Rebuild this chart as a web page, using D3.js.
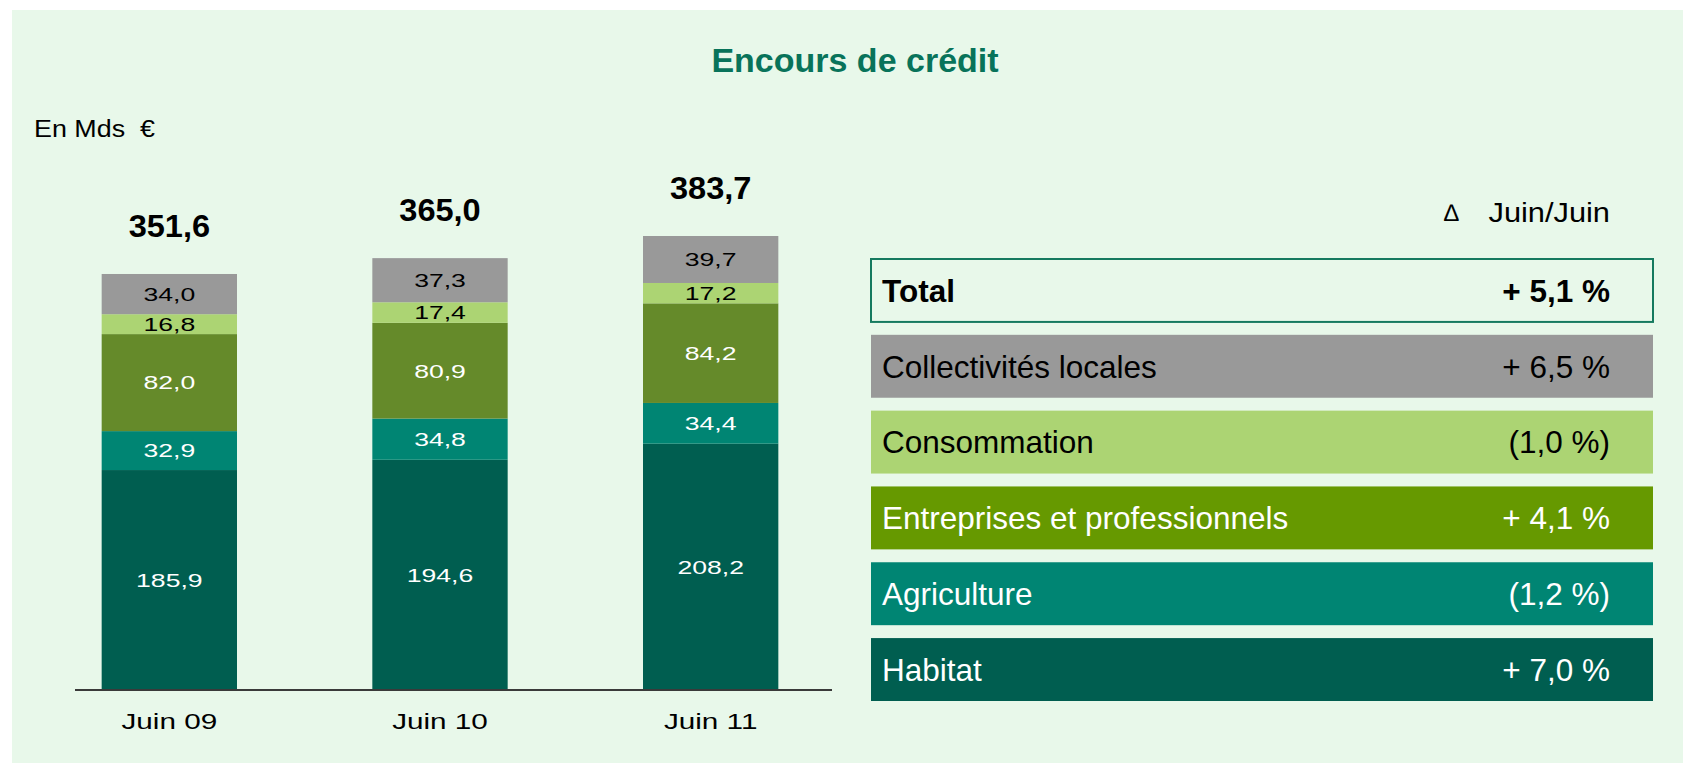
<!DOCTYPE html>
<html>
<head>
<meta charset="utf-8">
<script src="https://cdnjs.cloudflare.com/ajax/libs/d3/7.8.5/d3.min.js"></script>
<style>
  body { margin: 0; background: #ffffff; }
  svg text { font-family: "Liberation Sans", Arial, sans-serif; }
</style>
</head>
<body>
<svg id="chart" width="1683" height="763"></svg>
<script>
// data (Mds €)
const periods = ["Juin 09", "Juin 10", "Juin 11"];
const seriesNames = ["Habitat", "Agriculture", "Entreprises et professionnels", "Consommation", "Collectivités locales"];
const habitat = [185.9, 194.6, 208.2];
const agriculture = [32.9, 34.8, 34.4];
const entreprises = [82.0, 80.9, 84.2];
const consommation = [16.8, 17.4, 17.2];
const collectivites = [34.0, 37.3, 39.7];
const totals = [351.6, 365.0, 383.7];

// right hand table
const tableLabels = ["Total", "Collectivités locales", "Consommation", "Entreprises et professionnels", "Agriculture", "Habitat"];
const tableChanges = ["+ 5,1 %", "+ 6,5 %", "(1,0 %)", "+ 4,1 %", "(1,2 %)", "+ 7,0 %"];

const barColors = {
    "Habitat": "#005e50",
    "Agriculture": "#008573",
    "Entreprises et professionnels": "#658a2a",
    "Consommation": "#acd473",
    "Collectivités locales": "#999999"
};
const tableColors = {
    "Total": "none",
    "Collectivités locales": "#999999",
    "Consommation": "#acd473",
    "Entreprises et professionnels": "#669900",
    "Agriculture": "#008573",
    "Habitat": "#005e50"
};
const darkText = ["Consommation", "Collectivités locales", "Total"];

const svg = d3.select("#chart");

// light green panel
svg.append("rect")
    .attr("x", 12).attr("y", 10)
    .attr("width", 1683 - 12).attr("height", 763 - 10)
    .attr("fill", "#e8f8ea");

svg.append("text")
    .attr("x", 855).attr("y", 72)
    .attr("text-anchor", "middle")
    .attr("font-size", "34px")
    .attr("font-weight", "bold")
    .attr("fill", "#08735a")
    .text("Encours de crédit");

svg.append("text")
    .attr("transform", "translate(34,137) scale(1.12,1)")
    .attr("font-size", "24px")
    .style("white-space", "pre")
    .attr("fill", "#000")
    .text("En Mds  €");

// ---- stacked bars ----
const rows = periods.map((p, i) => ({
    period: p,
    "Habitat": habitat[i],
    "Agriculture": agriculture[i],
    "Entreprises et professionnels": entreprises[i],
    "Consommation": consommation[i],
    "Collectivités locales": collectivites[i],
    total: totals[i]
}));

const xScale = d3.scaleBand()
    .domain(periods)
    .range([34, 846])
    .paddingInner(0.5)
    .paddingOuter(0.25);

const yScale = d3.scaleLinear()
    .domain([0, 400])
    .range([690, 690 - 400 * 1.1832]);

const stacked = d3.stack().keys(seriesNames)(rows);

const layers = svg.append("g")
    .selectAll("g")
    .data(stacked)
    .enter()
    .append("g")
    .attr("fill", d => barColors[d.key]);

layers.selectAll("rect")
    .data(d => d)
    .enter()
    .append("rect")
    .attr("x", d => xScale(d.data.period))
    .attr("width", xScale.bandwidth())
    .attr("y", d => yScale(d[1]))
    .attr("height", d => yScale(d[0]) - yScale(d[1]));

// segment values, the original text is stretched sideways
stacked.forEach(layer => {
    svg.append("g")
        .selectAll("text")
        .data(layer)
        .enter()
        .append("text")
        .attr("transform", d => {
            const cx = xScale(d.data.period) + xScale.bandwidth() / 2;
            const cy = (yScale(d[0]) + yScale(d[1])) / 2 + 19 * 0.36;
            return `translate(${cx},${cy}) scale(1.4,1)`;
        })
        .attr("text-anchor", "middle")
        .attr("font-size", "19px")
        .attr("fill", darkText.includes(layer.key) ? "#000" : "#fff")
        .text(d => d3.format(".1f")(d[1] - d[0]).replace(".", ","));
});

// totals above bars
svg.append("g")
    .selectAll("text")
    .data(rows)
    .enter()
    .append("text")
    .attr("transform", d => `translate(${xScale(d.period) + xScale.bandwidth() / 2},${yScale(d.total) - 37}) scale(1.05,1)`)
    .attr("text-anchor", "middle")
    .attr("font-size", "31px")
    .attr("font-weight", "bold")
    .attr("fill", "#000")
    .text(d => d3.format(".1f")(d.total).replace(".", ","));

// base line + category labels
svg.append("line")
    .attr("x1", 75).attr("x2", 832)
    .attr("y1", yScale(0)).attr("y2", yScale(0))
    .attr("stroke", "#3a3a3a")
    .attr("stroke-width", 2);

svg.append("g")
    .selectAll("text")
    .data(periods)
    .enter()
    .append("text")
    .attr("transform", d => `translate(${xScale(d) + xScale.bandwidth() / 2},729) scale(1.35,1)`)
    .attr("text-anchor", "middle")
    .attr("font-size", "22px")
    .attr("fill", "#000")
    .text(d => d);

// ---- change table ----
svg.append("text")
    .attr("x", 1444).attr("y", 221)
    .attr("font-size", "24px")
    .attr("fill", "#000")
    .text("∆");
svg.append("text")
    .attr("transform", "translate(1610,222) scale(1.1,1)")
    .attr("text-anchor", "end")
    .attr("font-size", "28px")
    .attr("fill", "#000")
    .text("Juin/Juin");

const rowScale = d3.scaleBand()
    .domain(tableLabels)
    .range([259, 701])
    .paddingInner(0.17);

const tableRows = svg.append("g")
    .selectAll("g")
    .data(tableLabels)
    .enter()
    .append("g")
    .attr("transform", d => `translate(0,${rowScale(d)})`);

tableRows.append("rect")
    .attr("x", 871)
    .attr("width", 1653 - 871)
    .attr("height", rowScale.bandwidth())
    .attr("fill", d => tableColors[d])
    .attr("stroke", d => d === "Total" ? "#157a5f" : "none")
    .attr("stroke-width", 2);

tableRows.append("text")
    .attr("x", 882)
    .attr("y", rowScale.bandwidth() / 2 + 11.3)
    .attr("font-size", "31.5px")
    .attr("font-weight", d => d === "Total" ? "bold" : "normal")
    .attr("fill", d => darkText.includes(d) ? "#000" : "#fff")
    .text(d => d);

tableRows.append("text")
    .attr("x", 1610)
    .attr("y", rowScale.bandwidth() / 2 + 11.3)
    .attr("text-anchor", "end")
    .attr("font-size", "31.5px")
    .attr("font-weight", d => d === "Total" ? "bold" : "normal")
    .attr("fill", d => darkText.includes(d) ? "#000" : "#fff")
    .text((d, i) => tableChanges[i]);
</script>
</body>
</html>
